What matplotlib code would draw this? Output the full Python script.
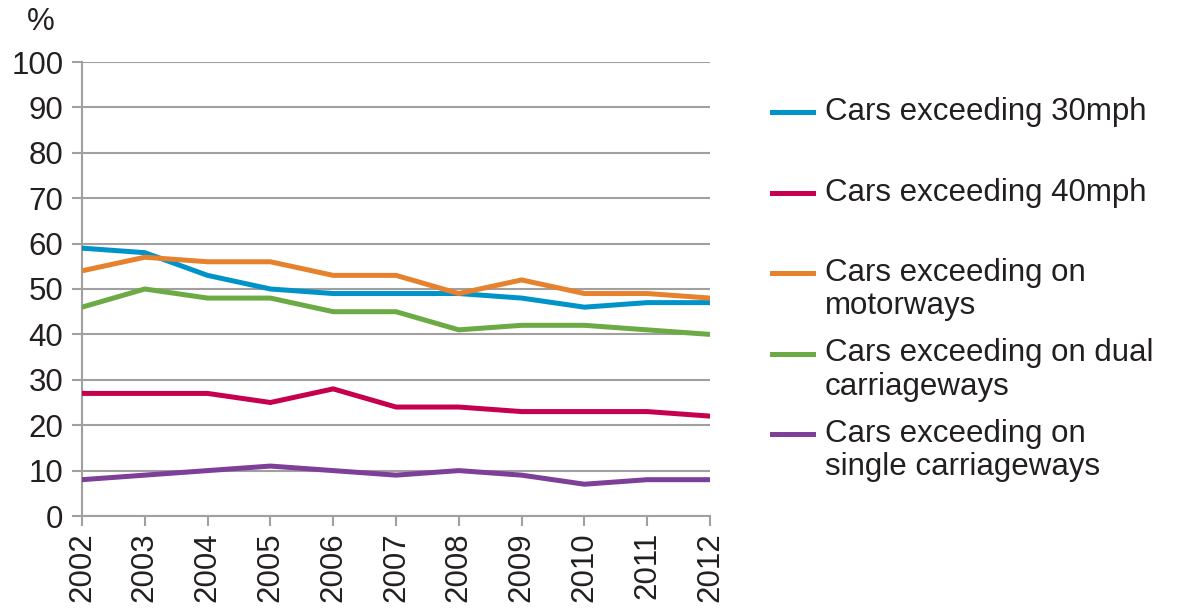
import matplotlib.pyplot as plt
from matplotlib.lines import Line2D

years = [2002, 2003, 2004, 2005, 2006, 2007, 2008, 2009, 2010, 2011, 2012]
mph30 = [59, 58, 53, 50, 49, 49, 49, 48, 46, 47, 47]
mph40 = [27, 27, 27, 25, 28, 24, 24, 23, 23, 23, 22]
motorways = [54, 57, 56, 56, 53, 53, 49, 52, 49, 49, 48]
dual = [46, 50, 48, 48, 45, 45, 41, 42, 42, 41, 40]
single = [8, 9, 10, 11, 10, 9, 10, 9, 7, 8, 8]

labels = ['Cars exceeding 30mph', 'Cars exceeding 40mph',
          'Cars exceeding on\nmotorways', 'Cars exceeding on dual\ncarriageways',
          'Cars exceeding on\nsingle carriageways']
colors = ['#0093C9', '#C6004F', '#E6822E', '#6BAA44', '#7D3F98']
series = [mph30, mph40, motorways, dual, single]

plt.rcParams['font.family'] = ['Liberation Sans', 'DejaVu Sans']
grey = '#A0A0A0'
txt = '#231F20'
fs = 22.5

W, H = 1192, 614
fig = plt.figure(figsize=(W / 100, H / 100), dpi=100)
ax = fig.add_axes([82 / W, 1 - 516 / H, (710 - 82) / W, (516 - 62) / H])

for vals, c in zip(series, colors):
    ax.plot(years, vals, color=c, lw=3.6, solid_joinstyle='miter', zorder=3)

ax.set_xlim(2002, 2012)
ax.set_ylim(0, 100)
ax.set_yticks(range(0, 101, 10))
ax.set_xticks(years)
ax.set_xticklabels([str(y) for y in years], rotation=90)
ax.yaxis.grid(True, color=grey, lw=1.5)
ax.set_axisbelow(True)
for s in ['top', 'right']:
    ax.spines[s].set_visible(False)
for s in ['left', 'bottom']:
    ax.spines[s].set_color(grey)
    ax.spines[s].set_linewidth(1.5)
ax.tick_params(axis='both', colors=grey, length=7.5, width=1.5, labelsize=fs,
               labelcolor=txt)
ax.tick_params(axis='y', pad=6)
ax.tick_params(axis='x', pad=4)

fig.text(41 / W, 1 - 22 / H, '%', fontsize=fs, color=txt, ha='center', va='center')

# legend drawn by hand so that the handle sits on the first text line
y0 = 112
for i, (lab, c) in enumerate(zip(labels, colors)):
    yy = 1 - (y0 + i * 80.5) / H
    fig.add_artist(Line2D([772 / W, 813 / W], [yy, yy], color=c, lw=3.6,
                          transform=fig.transFigure))
    fig.text(825 / W, yy + 15 / H, lab, fontsize=fs, color=txt, ha='left',
             va='top', linespacing=1.15)

fig.savefig('out.png', dpi=100)
